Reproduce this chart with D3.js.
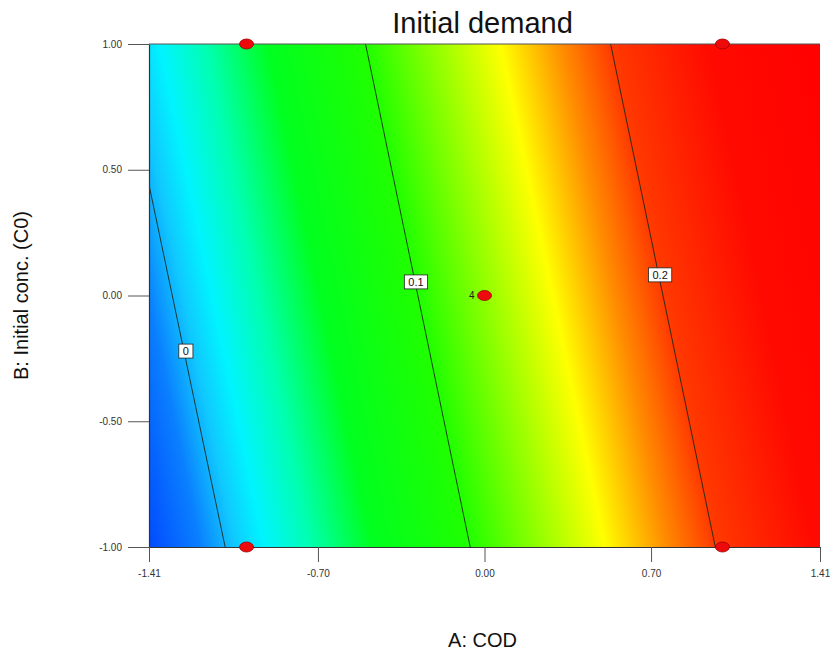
<!DOCTYPE html>
<html>
<head>
<meta charset="utf-8">
<script src="https://cdn.jsdelivr.net/npm/d3@7"></script>
<style>
  html, body { margin: 0; padding: 0; background: #ffffff; }
  svg { display: block; font-family: Arial, "Liberation Sans", sans-serif; }
</style>
</head>
<body>
<svg id="chart" width="830" height="653"></svg>
<script>
// ---- data ----
const chartTitle = "Initial demand";
const xTitle = "A: COD";
const yTitle = "B: Initial conc. (C0)";
const xDomain = [-1.41, 1.41];
const yDomain = [-1.00, 1.00];
const xTickValues = [-1.41, -0.70, 0.00, 0.70, 1.41];
const xTickLabels = ["-1.41", "-0.70", "0.00", "0.70", "1.41"];
const yTickValues = [-1.00, -0.50, 0.00, 0.50, 1.00];
const yTickLabels = ["-1.00", "-0.50", "0.00", "0.50", "1.00"];

// contour lines: level, start (A,B), end (A,B)
const contourLevels = [0, 0.1, 0.2];
const contourLabels = ["0", "0.1", "0.2"];
const contourStartA = [-1.41, -0.50, 0.53];
const contourStartB = [0.44, 1.00, 1.00];
const contourEndA = [-1.09, -0.06, 0.97];
const contourEndB = [-1.00, -1.00, -1.00];
const contourLabelA = [-1.255, -0.288, 0.738];
const contourLabelB = [-0.221, 0.054, 0.082];

// design points
const pointA = [-1, 1, -1, 1, 0];
const pointB = [1, 1, -1, -1, 0];
const pointLabels = ["", "", "", "", "4"];

// colour scale for the response
const colorValues = [-0.035, -0.01, 0.004, 0.016, 0.035, 0.06, 0.10, 0.13, 0.155, 0.18, 0.20, 0.24, 0.29];
const colorStops  = ["#0040ff", "#0a80ff", "#10c8ff", "#00f4ff", "#00ffb0", "#00ff20", "#20ff00",
                     "#99ff00", "#ffff00", "#ff8c00", "#ff3a00", "#ff0a00", "#ff0000"];

// ---- layout ----
const svg = d3.select("#chart");
const pLeft = 149, pRight = 820, pTop = 44, pBottom = 547;
const x = d3.scaleLinear().domain(xDomain).range([pLeft, pRight]);
const y = d3.scaleLinear().domain(yDomain).range([pBottom, pTop]);

// gradient derived from the contour lines (0.1 and 0.2)
const p1 = [x(contourStartA[1]), y(contourStartB[1])];
const q1 = [x(contourEndA[1]), y(contourEndB[1])];
let dir = [q1[0] - p1[0], q1[1] - p1[1]];
const dl = Math.hypot(dir[0], dir[1]);
dir = [dir[0] / dl, dir[1] / dl];
const nrm = [-dir[1], dir[0]];
if (nrm[0] < 0) { nrm[0] = -nrm[0]; nrm[1] = -nrm[1]; }
const p2 = [x(contourStartA[2]), y(contourStartB[2])];
const spacing = (p2[0] - p1[0]) * nrm[0] + (p2[1] - p1[1]) * nrm[1];
const pxPerUnit = spacing / (contourLevels[2] - contourLevels[1]);
const vmin = colorValues[0], vmax = colorValues[colorValues.length - 1];
const g1 = [p1[0] + nrm[0] * (vmin - contourLevels[1]) * pxPerUnit, p1[1] + nrm[1] * (vmin - contourLevels[1]) * pxPerUnit];
const g2 = [p1[0] + nrm[0] * (vmax - contourLevels[1]) * pxPerUnit, p1[1] + nrm[1] * (vmax - contourLevels[1]) * pxPerUnit];

const defs = svg.append("defs");
const grad = defs.append("linearGradient")
  .attr("id", "surf")
  .attr("gradientUnits", "userSpaceOnUse")
  .attr("x1", g1[0]).attr("y1", g1[1])
  .attr("x2", g2[0]).attr("y2", g2[1]);
colorValues.forEach((v, i) => {
  grad.append("stop")
    .attr("offset", (v - vmin) / (vmax - vmin))
    .attr("stop-color", colorStops[i]);
});
defs.append("clipPath").attr("id", "plotclip")
  .append("rect").attr("x", pLeft).attr("y", pTop).attr("width", pRight - pLeft).attr("height", pBottom - pTop);

svg.append("rect")
  .attr("x", pLeft).attr("y", pTop)
  .attr("width", pRight - pLeft).attr("height", pBottom - pTop)
  .attr("fill", "url(#surf)");

// contour lines
const plot = svg.append("g").attr("clip-path", "url(#plotclip)");
contourLevels.forEach((lv, i) => {
  plot.append("line")
    .attr("x1", x(contourStartA[i])).attr("y1", y(contourStartB[i]))
    .attr("x2", x(contourEndA[i])).attr("y2", y(contourEndB[i]))
    .attr("stroke", "#1a2a1a").attr("stroke-width", 0.9);
});

// contour labels
contourLevels.forEach((lv, i) => {
  const cx = x(contourLabelA[i]), cy = y(contourLabelB[i]);
  const g = svg.append("g").attr("transform", `translate(${cx},${cy})`);
  const t = g.append("text")
    .attr("text-anchor", "middle").attr("dy", "0.36em")
    .attr("font-size", 11).attr("fill", "#111")
    .text(contourLabels[i]);
  const w = t.node().getComputedTextLength() + 8;
  g.insert("rect", "text")
    .attr("x", -w / 2).attr("y", -7).attr("width", w).attr("height", 14)
    .attr("fill", "#ffffff").attr("stroke", "#222").attr("stroke-width", 0.8);
});

// axes
const axisColor = "#555";
const yAxis = svg.append("g")
  .attr("transform", `translate(${pLeft},0)`)
  .call(d3.axisLeft(y).tickValues(yTickValues).tickSize(21).tickSizeOuter(0)
        .tickFormat((v, i) => yTickLabels[i]).tickPadding(6));
const xAxis = svg.append("g")
  .attr("transform", `translate(0,${pBottom})`)
  .call(d3.axisBottom(x).tickValues(xTickValues).tickSize(15).tickSizeOuter(0)
        .tickFormat((v, i) => xTickLabels[i]).tickPadding(8));
[yAxis, xAxis].forEach(a => {
  a.select(".domain").attr("stroke", "#333").attr("stroke-width", 1.2);
  a.selectAll(".tick line").attr("stroke", axisColor).attr("stroke-width", 1);
  a.selectAll(".tick text").attr("font-size", 10).attr("fill", "#333")
    .attr("font-family", "Arial, 'Liberation Sans', sans-serif");
});
svg.append("line")
  .attr("x1", pLeft).attr("x2", pRight).attr("y1", pTop).attr("y2", pTop)
  .attr("stroke", axisColor).attr("stroke-width", 1);

// design points
pointA.forEach((a, i) => {
  svg.append("ellipse")
    .attr("cx", x(a)).attr("cy", y(pointB[i]))
    .attr("rx", 7).attr("ry", 5)
    .attr("fill", "#ee0a0a").attr("stroke", "#a00000").attr("stroke-width", 0.8);
  if (pointLabels[i]) {
    svg.append("text")
      .attr("x", x(a) - 10).attr("y", y(pointB[i]))
      .attr("dy", "0.35em").attr("text-anchor", "end")
      .attr("font-size", 10).attr("fill", "#222")
      .text(pointLabels[i]);
  }
});

// titles
svg.append("text")
  .attr("x", (pLeft + pRight) / 2 - 2).attr("y", 33)
  .attr("text-anchor", "middle").attr("font-size", 29).attr("fill", "#111")
  .text(chartTitle);
svg.append("text")
  .attr("x", (pLeft + pRight) / 2 - 2).attr("y", 647)
  .attr("text-anchor", "middle").attr("font-size", 20).attr("fill", "#111")
  .text(xTitle);
svg.append("text")
  .attr("transform", `translate(28,${(pTop + pBottom) / 2}) rotate(-90)`)
  .attr("text-anchor", "middle").attr("font-size", 20).attr("fill", "#111")
  .text(yTitle);
</script>
</body>
</html>
